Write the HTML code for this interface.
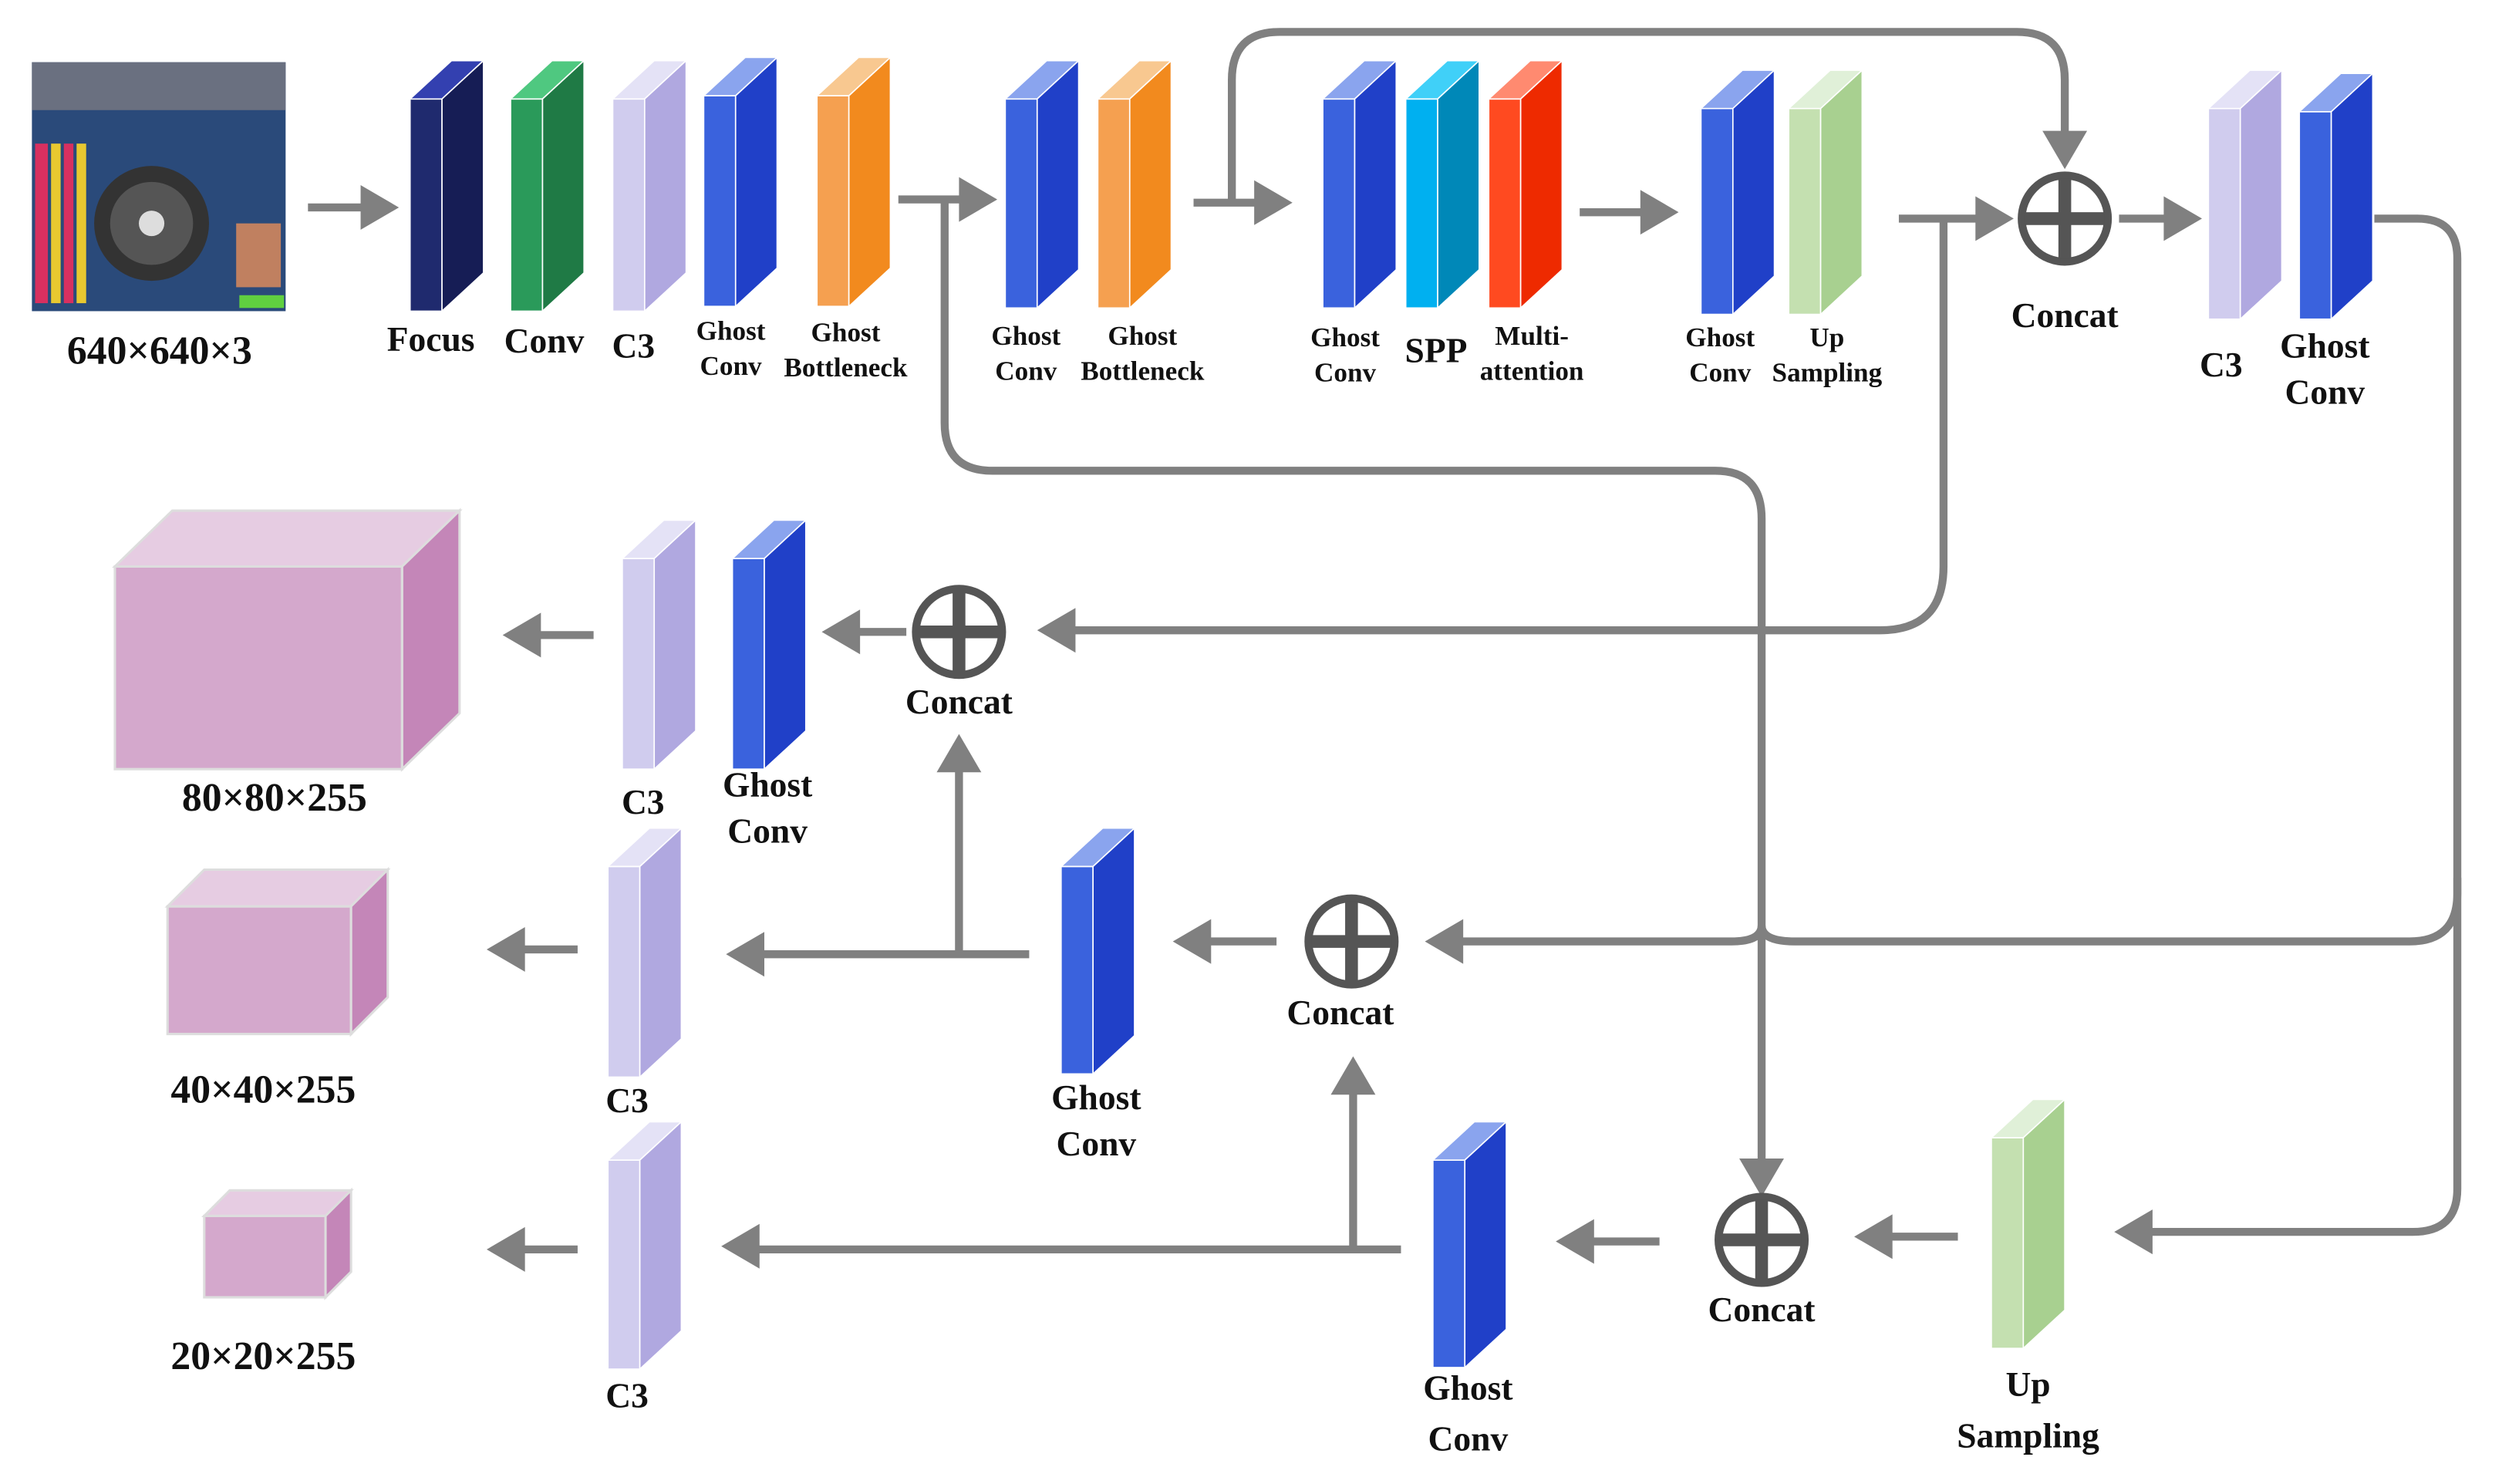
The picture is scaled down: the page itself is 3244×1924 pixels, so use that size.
<!DOCTYPE html>
<html><head><meta charset="utf-8"><style>
html,body{margin:0;padding:0;background:#fff;}
svg{display:block;}
text{font-family:"Liberation Serif",serif;font-weight:bold;fill:#111;text-anchor:middle;}
.s{font-size:17px;}
.m{font-size:22px;}
.l{font-size:25px;}
.ln{stroke:#808080;stroke-width:5;fill:none;}
.ah{fill:#808080;}
</style></head><body>
<svg width="3244" height="1924" viewBox="0 0 1568 930" preserveAspectRatio="none" xmlns="http://www.w3.org/2000/svg">
<rect width="1568" height="930" fill="#fff"/>
<!-- input image -->
<rect x="20" y="39" width="159" height="156" fill="#2a4a7a"/>
<rect x="20" y="39" width="159" height="30" fill="#6a7080"/>
<rect x="22" y="90" width="8" height="100" fill="#d83060"/>
<rect x="32" y="90" width="6" height="100" fill="#e8c830"/>
<rect x="40" y="90" width="6" height="100" fill="#d83060"/>
<rect x="48" y="90" width="6" height="100" fill="#e8c830"/>
<circle cx="95" cy="140" r="36" fill="#333"/>
<circle cx="95" cy="140" r="26" fill="#555"/>
<circle cx="95" cy="140" r="8" fill="#ddd"/>
<rect x="148" y="140" width="28" height="40" fill="#c08060"/>
<rect x="150" y="185" width="28" height="8" fill="#60d040"/>
<text class="l" x="100" y="228">640×640×3</text>

<!-- connectors -->
<path class="ln" d="M193,130 H232"/><polygon class="ah" points="250,130 226,116 226,144"/>
<path class="ln" d="M563,125 H605"/><polygon class="ah" points="625,125 601,111 601,139"/>
<path class="ln" d="M592,125 V265 Q592,295 622,295 H1075 Q1104,295 1104,325 V735"/><polygon class="ah" points="1104,750 1090,726 1118,726"/>
<path class="ln" d="M748,127 H790"/><polygon class="ah" points="810,127 786,113 786,141"/>
<path class="ln" d="M772,127 V50 Q772,20 802,20 H1264 Q1294,20 1294,50 V90"/><polygon class="ah" points="1294,106 1280,82 1308,82"/>
<path class="ln" d="M990,133 H1032"/><polygon class="ah" points="1052,133 1028,119 1028,147"/>
<path class="ln" d="M1190,137 H1242"/><polygon class="ah" points="1262,137 1238,123 1238,151"/>
<path class="ln" d="M1218,137 V355 Q1218,395 1178,395 H670"/><polygon class="ah" points="650,395 674,381 674,409"/>
<path class="ln" d="M1328,137 H1360"/><polygon class="ah" points="1380,137 1356,123 1356,151"/>
<path class="ln" d="M1488,137 H1515 Q1540,137 1540,162 V560 Q1540,590 1510,590 H1125 Q1104,590 1104,580 Q1104,590 1085,590 H912"/><polygon class="ah" points="893,590 917,576 917,604"/>
<path class="ln" d="M1540,550 V745 Q1540,772 1512,772 H1345"/><polygon class="ah" points="1325,772 1349,758 1349,786"/>
<path class="ln" d="M800,590 H752"/><polygon class="ah" points="735,590 759,576 759,604"/>
<path class="ln" d="M645,598 H472"/><polygon class="ah" points="455,598 479,584 479,612"/>
<path class="ln" d="M601,598 V478"/><polygon class="ah" points="601,460 587,484 615,484"/>
<path class="ln" d="M568,396 H532"/><polygon class="ah" points="515,396 539,382 539,410"/>
<path class="ln" d="M372,398 H335"/><polygon class="ah" points="315,398 339,384 339,412"/>
<path class="ln" d="M362,595 H325"/><polygon class="ah" points="305,595 329,581 329,609"/>
<path class="ln" d="M362,783 H325"/><polygon class="ah" points="305,783 329,769 329,797"/>
<path class="ln" d="M878,783 H470"/><polygon class="ah" points="452,781 476,767 476,795"/>
<path class="ln" d="M848,783 V680"/><polygon class="ah" points="848,662 834,686 862,686"/>
<path class="ln" d="M1040,778 H995"/><polygon class="ah" points="975,778 999,764 999,792"/>
<path class="ln" d="M1227,775 H1182"/><polygon class="ah" points="1162,775 1186,761 1186,789"/>

<!-- concat nodes -->
<g stroke="#555" fill="#fff">
<circle cx="1294" cy="137" r="27" stroke-width="5"/>
<circle cx="601" cy="396" r="27" stroke-width="5"/>
<circle cx="847" cy="590" r="27" stroke-width="5"/>
<circle cx="1104" cy="777" r="27" stroke-width="5"/>
</g>
<g stroke="#555" stroke-width="8">
<path d="M1269,137 H1319 M1294,112 V162"/>
<path d="M576,396 H626 M601,371 V421"/>
<path d="M822,590 H872 M847,565 V615"/>
<path d="M1079,777 H1129 M1104,752 V802"/>
</g>
<text class="m" x="1294" y="205">Concat</text>
<text class="m" x="601" y="447">Concat</text>
<text class="m" x="840" y="642">Concat</text>
<text class="m" x="1104" y="828">Concat</text>

<!-- block template: front(x,y,20,h), top, side; d=26 dy=24 -->
<g stroke="#fff" stroke-width="0.8">
<!-- Focus -->
<rect x="257" y="62" width="20" height="133" fill="#1f2a6e"/><polygon points="257,62 283,38 303,38 277,62" fill="#3340b0"/><polygon points="277,62 303,38 303,171 277,195" fill="#161d55"/>
<!-- Conv -->
<rect x="320" y="62" width="20" height="133" fill="#2a9a5a"/><polygon points="320,62 346,38 366,38 340,62" fill="#4fc880"/><polygon points="340,62 366,38 366,171 340,195" fill="#1f7a45"/>
<!-- C3 -->
<rect x="384" y="62" width="20" height="133" fill="#d0ccee"/><polygon points="384,62 410,38 430,38 404,62" fill="#e4e2f6"/><polygon points="404,62 430,38 430,171 404,195" fill="#b0a8e0"/>
<!-- Ghost Conv -->
<rect x="441" y="60" width="20" height="132" fill="#3a62dd"/><polygon points="441,60 467,36 487,36 461,60" fill="#8aa4ee"/><polygon points="461,60 487,36 487,168 461,192" fill="#2040c8"/>
<!-- Ghost Bottleneck -->
<rect x="512" y="60" width="20" height="132" fill="#f5a050"/><polygon points="512,60 538,36 558,36 532,60" fill="#f8c890"/><polygon points="532,60 558,36 558,168 532,192" fill="#f28a1e"/>
<!-- Ghost Conv 2 -->
<rect x="630" y="62" width="20" height="131" fill="#3a62dd"/><polygon points="630,62 656,38 676,38 650,62" fill="#8aa4ee"/><polygon points="650,62 676,38 676,169 650,193" fill="#2040c8"/>
<!-- Ghost Bottleneck 2 -->
<rect x="688" y="62" width="20" height="131" fill="#f5a050"/><polygon points="688,62 714,38 734,38 708,62" fill="#f8c890"/><polygon points="708,62 734,38 734,169 708,193" fill="#f28a1e"/>
<!-- Ghost Conv 3 -->
<rect x="829" y="62" width="20" height="131" fill="#3a62dd"/><polygon points="829,62 855,38 875,38 849,62" fill="#8aa4ee"/><polygon points="849,62 875,38 875,169 849,193" fill="#2040c8"/>
<!-- SPP -->
<rect x="881" y="62" width="20" height="131" fill="#00b0f0"/><polygon points="881,62 907,38 927,38 901,62" fill="#40d0f8"/><polygon points="901,62 927,38 927,169 901,193" fill="#0088b8"/>
<!-- Multi-attention -->
<rect x="933" y="62" width="20" height="131" fill="#ff4a20"/><polygon points="933,62 959,38 979,38 953,62" fill="#ff8a70"/><polygon points="953,62 979,38 979,169 953,193" fill="#ee2a00"/>
<!-- Ghost Conv 4 -->
<rect x="1066" y="68" width="20" height="129" fill="#3a62dd"/><polygon points="1066,68 1092,44 1112,44 1086,68" fill="#8aa4ee"/><polygon points="1086,68 1112,44 1112,173 1086,197" fill="#2040c8"/>
<!-- Up Sampling -->
<rect x="1121" y="68" width="20" height="129" fill="#c4e0b0"/><polygon points="1121,68 1147,44 1167,44 1141,68" fill="#e0f0d8"/><polygon points="1141,68 1167,44 1167,173 1141,197" fill="#a8d090"/>
<!-- C3 right -->
<rect x="1384" y="68" width="20" height="132" fill="#d0ccee"/><polygon points="1384,68 1410,44 1430,44 1404,68" fill="#e4e2f6"/><polygon points="1404,68 1430,44 1430,176 1404,200" fill="#b0a8e0"/>
<!-- Ghost Conv right -->
<rect x="1441" y="70" width="20" height="130" fill="#3a62dd"/><polygon points="1441,70 1467,46 1487,46 1461,70" fill="#8aa4ee"/><polygon points="1461,70 1487,46 1487,176 1461,200" fill="#2040c8"/>
<!-- C3 top-left -->
<rect x="390" y="350" width="20" height="132" fill="#d0ccee"/><polygon points="390,350 416,326 436,326 410,350" fill="#e4e2f6"/><polygon points="410,350 436,326 436,458 410,482" fill="#b0a8e0"/>
<!-- Ghost Conv top-left -->
<rect x="459" y="350" width="20" height="132" fill="#3a62dd"/><polygon points="459,350 485,326 505,326 479,350" fill="#8aa4ee"/><polygon points="479,350 505,326 505,458 479,482" fill="#2040c8"/>
<!-- C3 mid -->
<rect x="381" y="543" width="20" height="132" fill="#d0ccee"/><polygon points="381,543 407,519 427,519 401,543" fill="#e4e2f6"/><polygon points="401,543 427,519 427,651 401,675" fill="#b0a8e0"/>
<!-- Ghost Conv mid -->
<rect x="665" y="543" width="20" height="130" fill="#3a62dd"/><polygon points="665,543 691,519 711,519 685,543" fill="#8aa4ee"/><polygon points="685,543 711,519 711,649 685,673" fill="#2040c8"/>
<!-- C3 bottom -->
<rect x="381" y="727" width="20" height="131" fill="#d0ccee"/><polygon points="381,727 407,703 427,703 401,727" fill="#e4e2f6"/><polygon points="401,727 427,703 427,834 401,858" fill="#b0a8e0"/>
<!-- Ghost Conv bottom -->
<rect x="898" y="727" width="20" height="130" fill="#3a62dd"/><polygon points="898,727 924,703 944,703 918,727" fill="#8aa4ee"/><polygon points="918,727 944,703 944,833 918,857" fill="#2040c8"/>
<!-- Up Sampling bottom -->
<rect x="1248" y="713" width="20" height="132" fill="#c4e0b0"/><polygon points="1248,713 1274,689 1294,689 1268,713" fill="#e0f0d8"/><polygon points="1268,713 1294,689 1294,821 1268,845" fill="#a8d090"/>
</g>
<!-- output cubes -->
<g stroke="#ddd" stroke-width="1.5">
<rect x="72" y="355" width="180" height="127" fill="#d4a8cc"/><polygon points="72,355 108,320 288,320 252,355" fill="#e6cce2"/><polygon points="252,355 288,320 288,447 252,482" fill="#c486b8"/>
<rect x="105" y="568" width="115" height="80" fill="#d4a8cc"/><polygon points="105,568 128,545 243,545 220,568" fill="#e6cce2"/><polygon points="220,568 243,545 243,625 220,648" fill="#c486b8"/>
<rect x="128" y="762" width="76" height="51" fill="#d4a8cc"/><polygon points="128,762 144,746 220,746 204,762" fill="#e6cce2"/><polygon points="204,762 220,746 220,797 204,813" fill="#c486b8"/>
</g>
<text class="l" x="172" y="508">80×80×255</text>
<text class="l" x="165" y="691">40×40×255</text>
<text class="l" x="165" y="858">20×20×255</text>

<!-- labels -->
<text class="m" x="270" y="220">Focus</text>
<text class="m" x="341" y="221">Conv</text>
<text class="m" x="397" y="224">C3</text>
<text class="s" x="458" y="213">Ghost</text><text class="s" x="458" y="235">Conv</text>
<text class="s" x="530" y="214">Ghost</text><text class="s" x="530" y="236">Bottleneck</text>
<text class="s" x="643" y="216">Ghost</text><text class="s" x="643" y="238">Conv</text>
<text class="s" x="716" y="216">Ghost</text><text class="s" x="716" y="238">Bottleneck</text>
<text class="s" x="843" y="217">Ghost</text><text class="s" x="843" y="239">Conv</text>
<text class="m" x="900" y="227">SPP</text>
<text class="s" x="960" y="216">Multi-</text><text class="s" x="960" y="238">attention</text>
<text class="s" x="1078" y="217">Ghost</text><text class="s" x="1078" y="239">Conv</text>
<text class="s" x="1145" y="217">Up</text><text class="s" x="1145" y="239">Sampling</text>
<text class="m" x="1392" y="236">C3</text>
<text class="m" x="1457" y="224">Ghost</text><text class="m" x="1457" y="253">Conv</text>
<text class="m" x="403" y="510">C3</text>
<text class="m" x="481" y="499">Ghost</text><text class="m" x="481" y="528">Conv</text>
<text class="m" x="393" y="697">C3</text>
<text class="m" x="687" y="695">Ghost</text><text class="m" x="687" y="724">Conv</text>
<text class="m" x="393" y="882">C3</text>
<text class="m" x="920" y="877">Ghost</text><text class="m" x="920" y="909">Conv</text>
<text class="m" x="1271" y="875">Up</text><text class="m" x="1271" y="907">Sampling</text>
</svg>
</body></html>
